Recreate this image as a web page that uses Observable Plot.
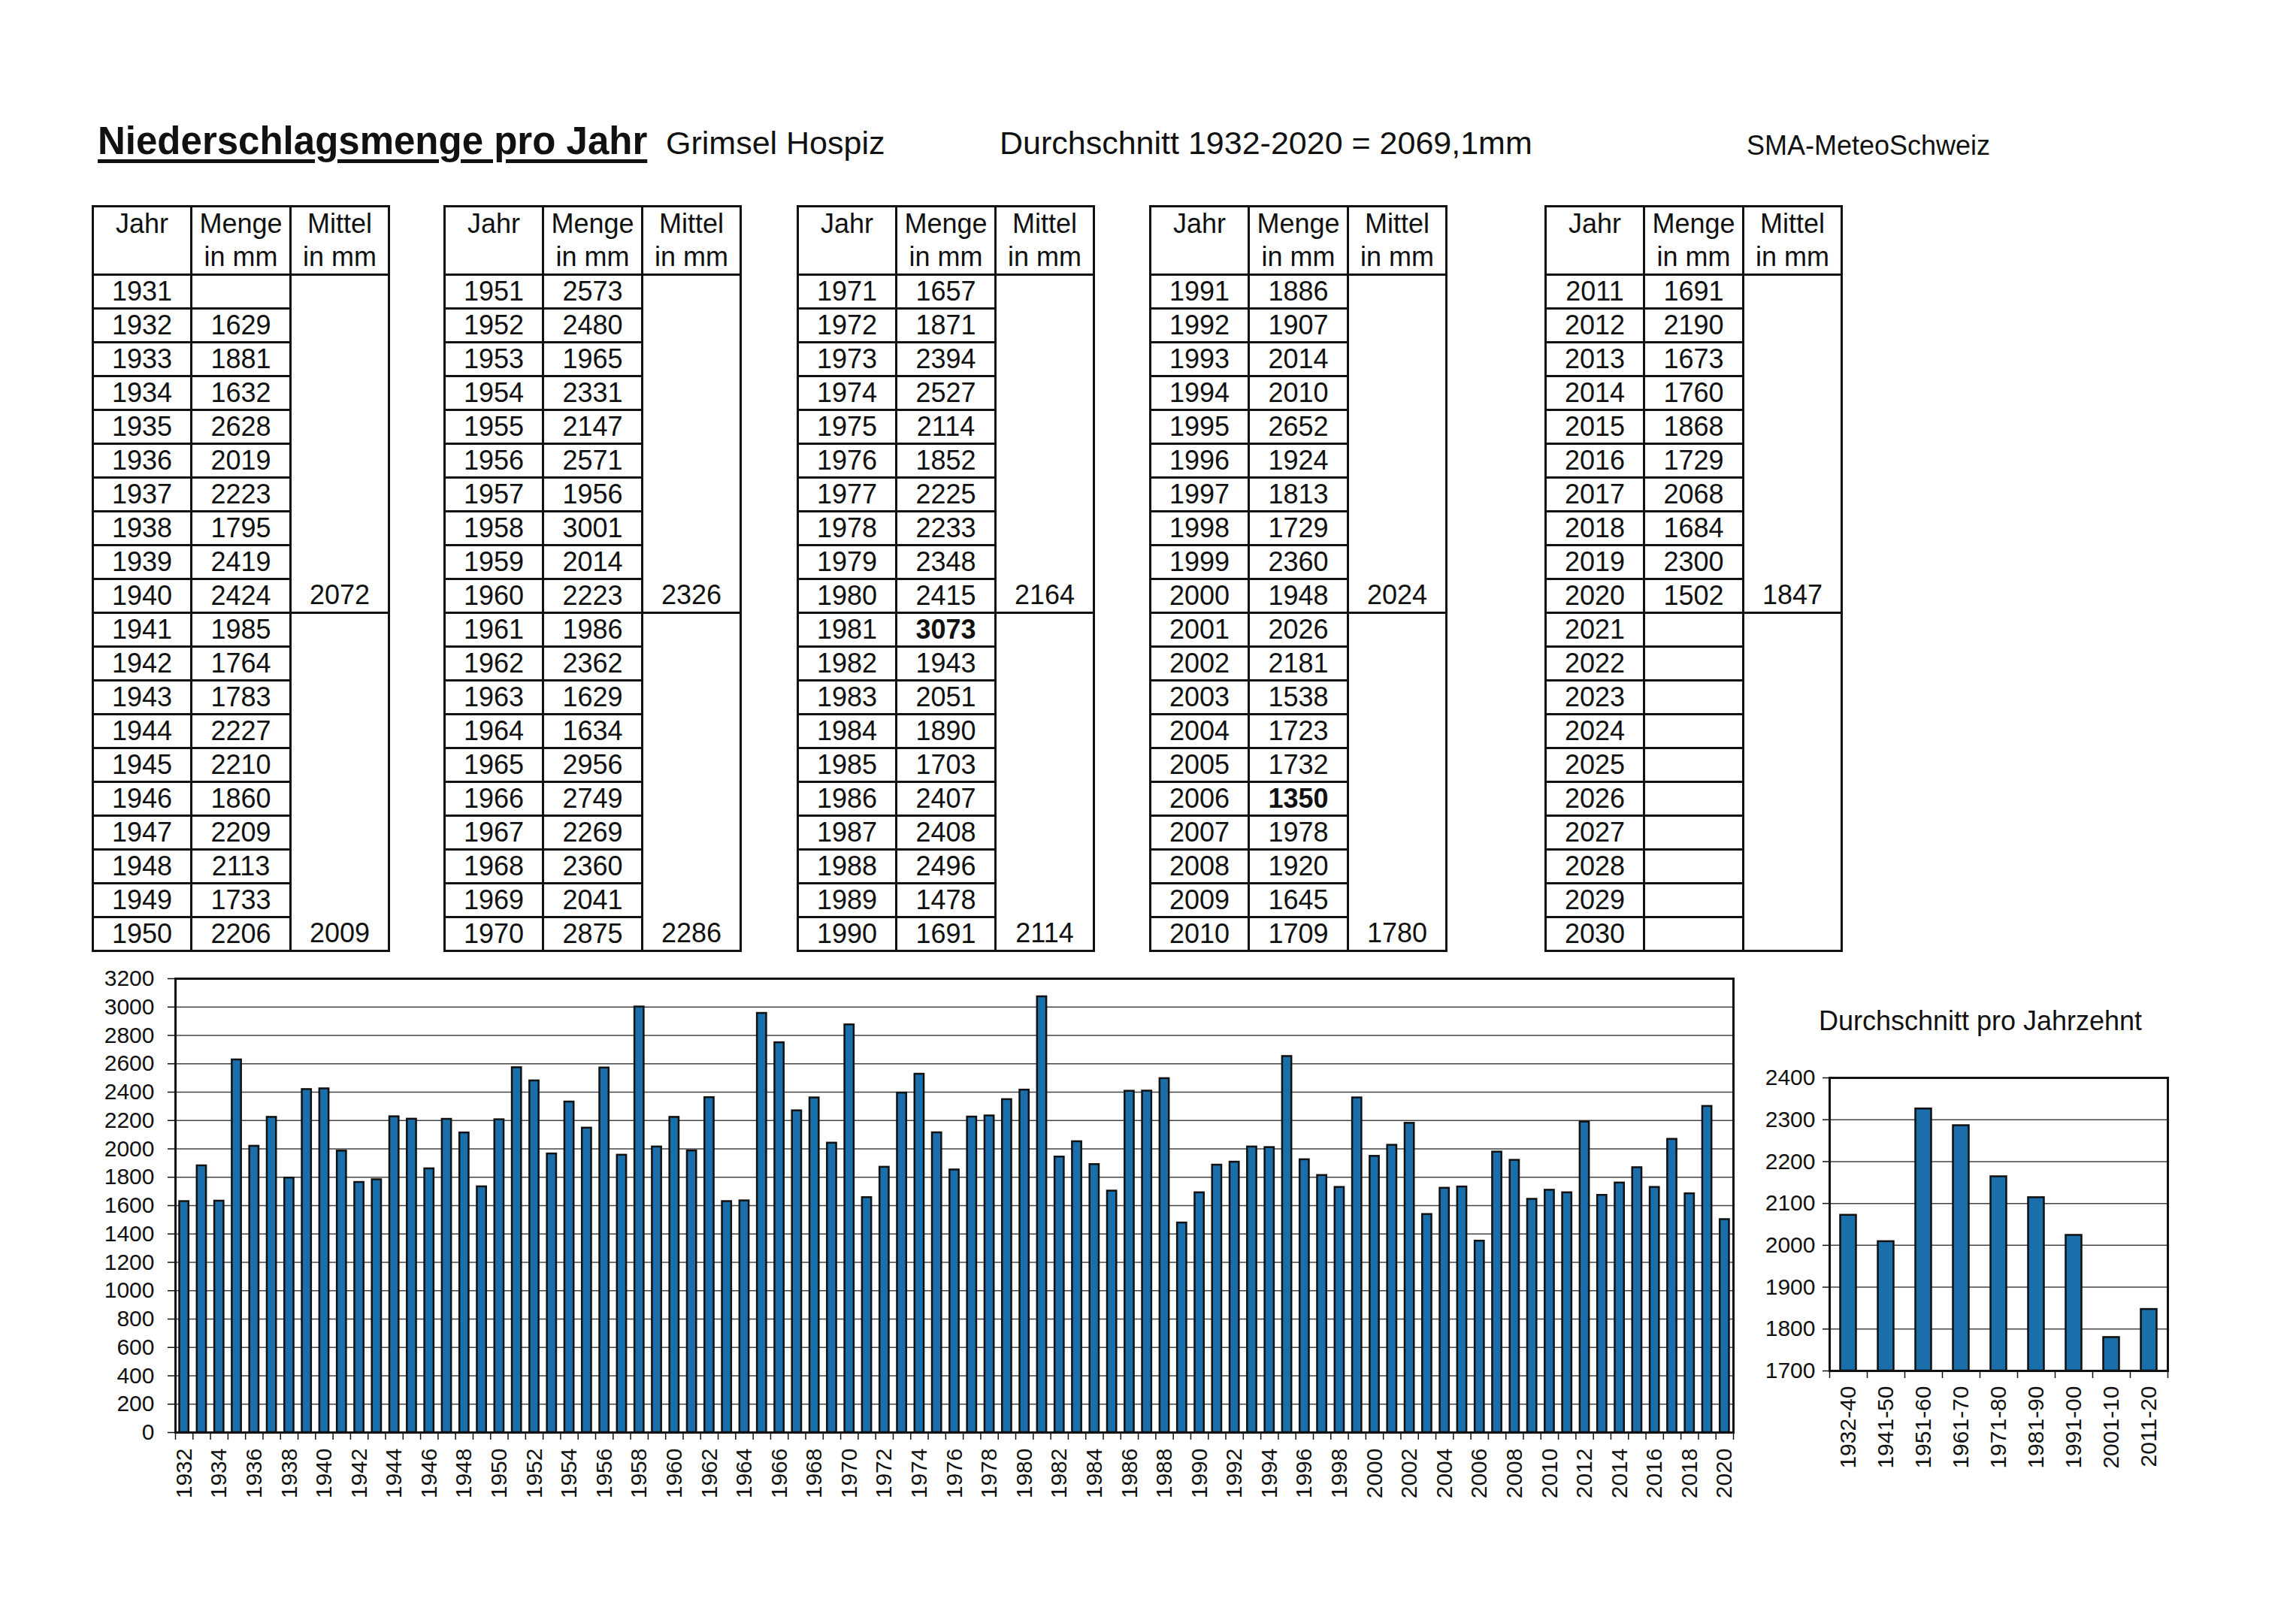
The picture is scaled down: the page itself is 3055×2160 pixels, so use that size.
<!DOCTYPE html>
<html>
<head>
<meta charset="utf-8">
<script src="https://cdn.jsdelivr.net/npm/d3@7"></script>
<script src="https://cdn.jsdelivr.net/npm/@observablehq/plot@0.6"></script>
<style>
html, body { margin: 0; padding: 0; background: #fff; }
#page { position: relative; width: 3055px; height: 2160px; font-family: "Liberation Sans", Arial, sans-serif; color: #111; overflow: hidden; }
.abs { position: absolute; white-space: nowrap; line-height: 1; }
table.t { position: absolute; border-collapse: collapse; table-layout: fixed; width: 394px; }
table.t td { border: 3px solid #111; padding: 0; text-align: center; font-size: 36px; line-height: 40px; height: 42px; overflow: hidden; white-space: nowrap; }
table.t tr.h td { height: 86px; vertical-align: top; line-height: 44px; }
table.t td.m { vertical-align: bottom; line-height: 44px; }
table.t td.b { font-weight: bold; }
.chart { position: absolute; }
</style>
</head>
<body>
<div id="page"></div>
<script>
// ---------------- data ----------------
const firstYear = 1932;
const values = [
  1629, 1881, 1632, 2628, 2019, 2223, 1795, 2419, 2424,
  1985, 1764, 1783, 2227, 2210, 1860, 2209, 2113, 1733, 2206,
  2573, 2480, 1965, 2331, 2147, 2571, 1956, 3001, 2014, 2223,
  1986, 2362, 1629, 1634, 2956, 2749, 2269, 2360, 2041, 2875,
  1657, 1871, 2394, 2527, 2114, 1852, 2225, 2233, 2348, 2415,
  3073, 1943, 2051, 1890, 1703, 2407, 2408, 2496, 1478, 1691,
  1886, 1907, 2014, 2010, 2652, 1924, 1813, 1729, 2360, 1948,
  2026, 2181, 1538, 1723, 1732, 1350, 1978, 1920, 1645, 1709,
  1691, 2190, 1673, 1760, 1868, 1729, 2068, 1684, 2300, 1502
];
const years = values.map((v, i) => firstYear + i);
const decadeLabels = ["1932-40", "1941-50", "1951-60", "1961-70", "1971-80", "1981-90", "1991-00", "2001-10", "2011-20"];
const decadeMeans = [2072, 2009, 2326, 2286, 2164, 2114, 2024, 1780, 1847];
const boldYears = [1981, 2006];
const tableStarts = [1931, 1951, 1971, 1991, 2011];
const yTicksMain = [0, 200, 400, 600, 800, 1000, 1200, 1400, 1600, 1800, 2000, 2200, 2400, 2600, 2800, 3000, 3200];
const yTicksDecade = [1700, 1800, 1900, 2000, 2100, 2200, 2300, 2400];
const titleMain = "Niederschlagsmenge pro Jahr";
const titleStation = "Grimsel Hospiz";
const titleMean = "Durchschnitt 1932-2020 = 2069,1mm";
const titleSource = "SMA-MeteoSchweiz";
const titleDecade = "Durchschnitt pro Jahrzehnt";
const headers = [["Jahr"], ["Menge", "in mm"], ["Mittel", "in mm"]];

const barColor = "#1a6ea9";
const font = "'Liberation Sans', Arial, sans-serif";
const page = document.getElementById("page");

// ---------------- header texts ----------------
function addText(txt, left, top, size, extra) {
  const d = document.createElement("div");
  d.className = "abs";
  d.textContent = txt;
  d.style.left = left + "px";
  d.style.top = top + "px";
  d.style.fontSize = size + "px";
  Object.assign(d.style, extra || {});
  page.appendChild(d);
  return d;
}
addText(titleMain, 130, 162, 51, {fontWeight: "bold", textDecoration: "underline", textDecorationThickness: "5px", textUnderlineOffset: "7px"});
addText(titleStation, 886, 169, 43);
addText(titleMean, 1330, 169, 43);
addText(titleSource, 2324, 176, 36);
const dt = addText(titleDecade, 2635, 1341, 36);
dt.style.transform = "translateX(-50%)";

// ---------------- tables ----------------
const tableLefts = [122, 590, 1060, 1529, 2055];
tableStarts.forEach((start, ti) => {
  const t = document.createElement("table");
  t.className = "t";
  t.style.left = tableLefts[ti] + "px";
  t.style.top = "273px";
  let html = '<colgroup><col style="width:131px"><col style="width:132px"><col style="width:131px"></colgroup>';
  html += '<tr class="h">' + headers.map(h => `<td>${h.length === 1 ? h[0] : h.join("<br>")}</td>`).join("") + "</tr>";
  for (let k = 0; k < 20; k++) {
    const y = start + k;
    const idx = years.indexOf(y);
    const v = idx >= 0 ? values[idx] : "";
    let row = `<td>${y}</td><td class="${boldYears.includes(y) ? "b" : ""}">${v}</td>`;
    if (k % 10 === 0) {
      const blk = (y - 1931) / 10;
      const m = blk < decadeMeans.length ? decadeMeans[blk] : "";
      row += `<td rowspan="10" class="m">${m}</td>`;
    }
    html += `<tr>${row}</tr>`;
  }
  t.innerHTML = html;
  page.appendChild(t);
});

// ---------------- main chart ----------------
const rows = years.map((y, i) => ({year: y, value: values[i]}));
const labelYears = years.filter(y => (y - firstYear) % 2 === 0);
const boundaries = years.concat([years[years.length - 1] + 1]);

const main = Plot.plot({
  width: 2330, height: 730,
  marginLeft: 233, marginRight: 24, marginTop: 22, marginBottom: 104,
  style: {fontFamily: font, fontSize: "30px", background: "transparent", color: "#111", overflow: "visible"},
  x: {type: "linear", domain: [years[0], years[years.length - 1] + 1], axis: null, label: null},
  y: {domain: [yTicksMain[0], yTicksMain[yTicksMain.length - 1]], axis: null, label: null},
  marks: [
    Plot.gridY(yTicksMain, {stroke: "#444", strokeOpacity: 1, strokeWidth: 1.5}),
    Plot.rect(rows, {x1: "year", x2: d => d.year + 1, y1: () => yTicksMain[0], y2: "value",
      fill: barColor, stroke: "#111", strokeWidth: 2.5, insetLeft: 5.5, insetRight: 5.5}),
    Plot.axisY(yTicksMain, {tickSize: 10, tickPadding: 18, tickFormat: d => String(d), stroke: "#111", strokeWidth: 1.5, fill: "#111", label: null}),
    Plot.axisX(boundaries, {tickSize: 10, tickFormat: () => "", stroke: "#111", strokeWidth: 1.5, label: null}),
    Plot.text(labelYears, {x: d => d + 0.5, text: d => String(d), frameAnchor: "bottom", dy: 21, rotate: -90, textAnchor: "end", lineAnchor: "middle", fill: "#111"}),
    Plot.frame({stroke: "#111", strokeWidth: 3})
  ]
});
main.classList.add("chart");
main.style.left = "0px";
main.style.top = "1280px";
page.appendChild(main);

// ---------------- decade chart ----------------
const dec = decadeLabels.map((l, i) => ({i, label: l, value: decadeMeans[i]}));
const small = Plot.plot({
  width: 620, height: 580,
  marginLeft: 134, marginRight: 36, marginTop: 34, marginBottom: 156,
  style: {fontFamily: font, fontSize: "30px", background: "transparent", color: "#111", overflow: "visible"},
  x: {type: "linear", domain: [0, decadeLabels.length], axis: null, label: null},
  y: {domain: [yTicksDecade[0], yTicksDecade[yTicksDecade.length - 1]], axis: null, label: null},
  marks: [
    Plot.gridY(yTicksDecade, {stroke: "#444", strokeOpacity: 1, strokeWidth: 1.5}),
    Plot.rect(dec, {x1: "i", x2: d => d.i + 1, y1: () => yTicksDecade[0], y2: "value",
      fill: barColor, stroke: "#111", strokeWidth: 2.5, insetLeft: 14.5, insetRight: 14.5}),
    Plot.axisY(yTicksDecade, {tickSize: 9, tickPadding: 10, tickFormat: d => String(d), stroke: "#111", strokeWidth: 1.5, fill: "#111", label: null}),
    Plot.axisX(d3.range(0, decadeLabels.length + 1), {tickSize: 10, tickFormat: () => "", stroke: "#111", strokeWidth: 1.5, label: null}),
    Plot.text(dec, {x: d => d.i + 0.5, text: "label", frameAnchor: "bottom", dy: 20, rotate: -90, textAnchor: "end", lineAnchor: "middle", fill: "#111"}),
    Plot.frame({stroke: "#111", strokeWidth: 3})
  ]
});
small.classList.add("chart");
small.style.left = "2300px";
small.style.top = "1400px";
page.appendChild(small);
</script>
</body>
</html>
